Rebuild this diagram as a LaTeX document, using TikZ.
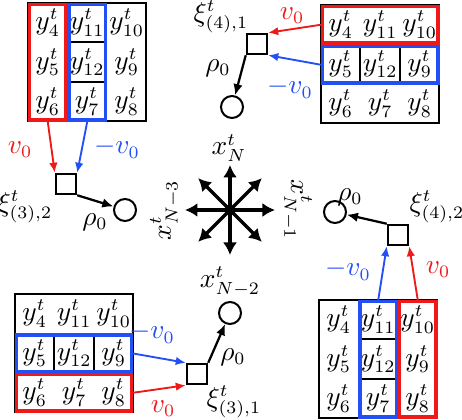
\documentclass[tikz,border=0pt]{standalone}
\usetikzlibrary{arrows.meta,fit}
\definecolor{myred}{RGB}{240,25,25}
\definecolor{myblue}{RGB}{35,80,245}
\newcommand\ytab[3]{%
  \draw[tab] (#2,#3) rectangle ++(118.5,118.5);
  \foreach \r/\a/\b/\c in {0/4/11/10,1/5/12/9,2/6/7/8}{
    \node[cell] (#1-\r-0) at ({#2+19.75},{#3+19.75+39.5*\r}) {$y^t_{\a}$};
    \node[cell] (#1-\r-1) at ({#2+59.25},{#3+19.75+39.5*\r}) {$y^t_{\b}$};
    \node[cell] (#1-\r-2) at ({#2+98.75},{#3+19.75+39.5*\r}) {$y^t_{\c}$};
  }%
}
\begin{document}
\fontsize{10.5}{12.5}\selectfont
\begin{tikzpicture}[x=0.4pt,y=-0.4pt,
  cell/.style={inner sep=0pt},
  tab/.style={draw=black,line width=0.8pt},
  rbox/.style={draw=myred,line width=1.3pt,inner sep=0pt},
  bbox/.style={draw=myblue,line width=1.3pt,inner sep=0pt},
  fac/.style={draw,line width=0.8pt,minimum size=8.2pt,inner sep=0pt},
  var/.style={draw,circle,line width=0.8pt,minimum size=8.8pt,inner sep=0pt},
  rarr/.style={myred,line width=0.75pt,-{Latex[length=4pt,width=3.4pt]}},
  barr/.style={myblue,line width=0.75pt,-{Latex[length=4pt,width=3.4pt]}},
  karr/.style={black,line width=0.9pt,-{Latex[length=4.5pt,width=3.8pt]}},
  carr/.style={black,line width=1.4pt,-{Latex[length=5pt,width=5.6pt]}},
  rlab/.style={text=myred,inner sep=0.5pt},
  blab/.style={text=myblue,inner sep=0.5pt},
  lab/.style={inner sep=0.5pt}]
\useasboundingbox (0,0) rectangle (462,420);

% ---------- top-left ----------
\ytab{TL}{28}{3}
\draw[tab] (67.5,42.5) -- (107,42.5) (67.5,82) -- (107,82);
\node[rbox,fit={(29.5,4.5)(66,120)}] (rTL) {};
\node[bbox,fit={(69,4.5)(105.5,120)}] (bTL) {};
\node[fac] (sTL) at (66,184) {};
\node[var] (cTL) at (125,210) {};
\draw[rarr] (rTL.south) -- (sTL.north west);
\draw[barr] (bTL.south) -- (sTL.north east);
\draw[karr] (sTL.south east) -- (cTL);
\node[rlab] (lvTL) at (20,150) {$v_0$};
\node[blab] (lmTL) at (117,148) {$-v_0$};
\node[lab] (xiTL) at (25,207) {$\xi^t_{(3),2}$};
\node[lab] (rhoTL) at (95,222) {$\rho_0$};

% ---------- top-right ----------
\ytab{TR}{321}{5}
\draw[tab] (360.5,44.5) -- (360.5,84) (400,44.5) -- (400,84);
\node[rbox,fit={(322.5,6.5)(438,43)}] (rTR) {};
\node[bbox,fit={(322.5,46.5)(438,83)}] (bTR) {};
\node[fac] (sTR) at (257,44) {};
\node[var] (cTR) at (232,107) {};
\draw[rarr] (rTR.west) -- (sTR.north east);
\draw[barr] (bTR.west) -- (sTR.south east);
\draw[karr] (sTR.south west) -- (cTR);
\node[rlab] (lvTR) at (292,16) {$v_0$};
\node[blab] (lmTR) at (290,88) {$-v_0$};
\node[lab] (xiTR) at (221,17) {$\xi^t_{(4),1}$};
\node[lab] (rhoTR) at (218,68) {$\rho_0$};
\node[lab] (xN) at (229,148) {$x^t_N$};

% ---------- bottom-right ----------
\ytab{BR}{319}{300}
\draw[tab] (358.5,339.5) -- (398,339.5) (358.5,379) -- (398,379);
\node[bbox,fit={(360,301.5)(396.5,417)}] (bBR) {};
\node[rbox,fit={(399.5,301.5)(436,417)}] (rBR) {};
\node[fac] (sBR) at (398,235) {};
\node[var] (cBR) at (335,212) {};
\draw[barr] (bBR.north) -- (sBR.south west);
\draw[rarr] (rBR.north) -- (sBR.south east);
\draw[karr] (sBR.north west) -- (cBR);
\node[blab] (lmBR) at (348,270) {$-v_0$};
\node[rlab] (lvBR) at (438,270) {$v_0$};
\node[lab] (xiBR) at (437,207) {$\xi^t_{(4),2}$};
\node[lab] (rhoBR) at (350,197) {$\rho_0$};
\node[lab,rotate=-90] (xN1) at (297,210) {$x^t_{N-1}$};

% ---------- bottom-left ----------
\ytab{BL}{15}{294}
\draw[tab] (54.5,333.5) -- (54.5,373) (94,333.5) -- (94,373);
\node[bbox,fit={(16.5,335)(131.5,372)}] (bBL) {};
\node[rbox,fit={(16.5,374.5)(131.5,411)}] (rBL) {};
\node[fac] (sBL) at (197,374) {};
\node[var] (cBL) at (230,313) {};
\draw[barr] (bBL.east) -- (sBL.north west);
\draw[rarr] (rBL.east) -- (sBL.south west);
\draw[karr] (sBL.north east) -- (cBL);
\node[blab] (lmBL) at (152,333) {$-v_0$};
\node[rlab] (lvBL) at (163,409) {$v_0$};
\node[lab] (xiBL) at (234,402) {$\xi^t_{(3),1}$};
\node[lab] (rhoBL) at (233,357) {$\rho_0$};
\node[lab] (xN2) at (230,282) {$x^t_{N-2}$};
\node[lab,rotate=90] (xN3) at (165,210) {$x^t_{N-3}$};

% ---------- centre ----------
\node[circle,fill,minimum size=4.4pt,inner sep=0pt] (ctr) at (230,210) {};
\foreach \a in {0,45,...,315}{
  \path (ctr.center) ++(\a:45) coordinate (e\a);
  \draw[carr] (ctr.center) -- (e\a);
}
\end{tikzpicture}
\end{document}
